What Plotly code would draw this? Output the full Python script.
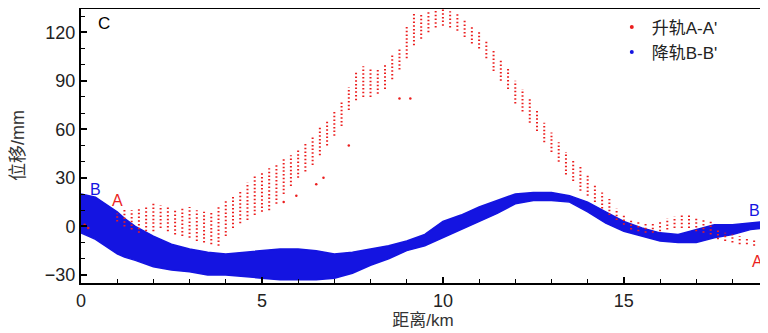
import plotly.graph_objects as go

# ---- Ascending track A-A' (red): dotted point columns, distance (km), lower / upper displacement (mm)
red_x = [1.0, 1.2, 1.4, 1.6, 1.8, 2.0, 2.2, 2.4, 2.6, 2.8, 3.0, 3.2, 3.4, 3.6, 3.8,
         4.0, 4.2, 4.4, 4.6, 4.8, 5.0, 5.2, 5.4, 5.6, 5.8, 6.0, 6.2, 6.4, 6.6, 6.8,
         7.0, 7.2, 7.4, 7.6, 7.8, 8.0, 8.2, 8.4, 8.6, 8.8, 9.0, 9.2, 9.4, 9.6, 9.8,
         10.0, 10.2, 10.4, 10.6, 10.8, 11.0, 11.2, 11.4, 11.6, 11.8, 12.0, 12.2, 12.4, 12.6, 12.8,
         13.0, 13.2, 13.4, 13.6, 13.8, 14.0, 14.2, 14.4, 14.6, 14.8, 15.0, 15.2, 15.4, 15.6, 15.8,
         16.0, 16.2, 16.4, 16.6, 16.8, 17.0, 17.2, 17.4, 17.6, 17.8, 18.0, 18.2, 18.4, 18.6, 18.8]
red_lo = [3, 0, -2, -4, -3, -3, -1, -3, -5, -6, -7, -9, -10, -11, -12,
          -6, -1, 2, 4, 7, 9, 10, 14, 20, 25, 30, 34, 38, 44, 50,
          56, 62, 72, 78, 80, 80, 82, 85, 91, 97, 104, 112, 116, 120, 123,
          124, 123, 121, 117, 113, 110, 104, 96, 90, 85, 76, 71, 64, 59, 52,
          46, 40, 32, 28, 22, 19, 15, 11, 7, 4, 1, -2, -3, -4, -4,
          -3, -2, -1, -1, -1, -3, -4, -5, -8, -9, -10, -11, -11, -12, -12]
red_hi = [8, 11, 10, 11, 12, 14, 13, 12, 11, 11, 12, 10, 9, 9, 12,
          16, 19, 22, 27, 31, 34, 36, 39, 42, 44, 48, 52, 56, 61, 66,
          72, 78, 86, 96, 99, 98, 97, 100, 107, 110, 124, 132, 132, 133, 134,
          134, 133, 132, 128, 124, 120, 115, 109, 103, 98, 90, 85, 79, 72, 64,
          58, 52, 46, 41, 37, 32, 26, 21, 17, 11, 7, 4, 3, 2, 2,
          3, 5, 6, 8, 7, 5, 5, 4, -2, -4, -5, -6, -7, -8, -8]
# isolated red points
red_out_x = [5.6, 5.95, 6.5, 6.7, 7.4, 8.8, 9.1, 0.1, 0.2]
red_out_y = [15, 19, 26, 30, 50, 79, 79, 1, -1]

# ---- Descending track B-B' (blue): band of points, distance (km), lower / upper displacement (mm)
blue_x = [0.0, 0.2, 0.4, 0.6, 0.8, 1.0, 1.2, 1.5, 2.0, 2.5, 3.0, 3.5, 4.0, 4.5, 5.0,
          5.5, 6.0, 6.5, 7.0, 7.5, 8.0, 8.5, 9.0, 9.5, 10.0, 10.5, 11.0, 11.5, 12.0, 12.5,
          13.0, 13.5, 14.0, 14.5, 15.0, 15.5, 16.0, 16.5, 17.0, 17.5, 18.0, 18.5, 18.9]
blue_lo = [-4, -6, -8, -11, -14, -17, -19, -21, -25, -27, -28, -30, -30, -31, -32,
           -33, -33, -33, -32, -29, -24, -20, -15, -12, -7, -2, 3, 8, 14, 16,
           16, 15, 9, 2, -3, -6, -9, -10, -10, -7, -5, -2, -1]
blue_hi = [20, 19, 18, 15, 12, 9, 5, 0, -6, -11, -14, -16, -17, -16, -15,
           -14, -14, -15, -17, -16, -14, -12, -9, -5, 3, 7, 12, 16, 20, 21,
           21, 19, 15, 9, 3, -1, -4, -5, -2, 1, 1, 2, 3]

# ---- text
label_panel = "C"
name_red = "升轨A-A'"
name_blue = "降轨B-B'"
x_title = "距离/km"
y_title = "位移/mm"
# (text, x, y, colour, anchor, x-shift px)
point_labels = [("B", 0.4, 23, "blue", "center", 0), ("A", 1.02, 16, "red", "center", 0),
                ("B'", 18.9, 10, "blue", "right", 0), ("A'", 18.9, -22, "red", "right", 3)]

RED = "rgb(235,30,30)"
BLUE = "rgb(20,20,225)"
FONT = "Liberation Sans, Arial, Noto Sans CJK SC, sans-serif"

fig = go.Figure()

# blue band
poly_x = blue_x + blue_x[::-1]
poly_y = blue_hi + blue_lo[::-1]
fig.add_trace(go.Scatter(x=poly_x, y=poly_y, mode="lines", fill="toself",
                         fillcolor=BLUE, line=dict(color=BLUE, width=1.5),
                         showlegend=False, hoverinfo="skip"))

# red dotted columns
cx, cy = [], []
for x, lo, hi in zip(red_x, red_lo, red_hi):
    cx += [x, x, None]
    cy += [lo, hi, None]
fig.add_trace(go.Scatter(x=cx, y=cy, mode="lines",
                         line=dict(color=RED, width=2, dash="1.5px,2.2px"),
                         showlegend=False, hoverinfo="skip"))
fig.add_trace(go.Scatter(x=red_out_x, y=red_out_y, mode="markers",
                         marker=dict(color=RED, size=2.5), showlegend=False, hoverinfo="skip"))

# legend entries
fig.add_trace(go.Scatter(x=[None], y=[None], mode="markers", name=name_red,
                         marker=dict(color=RED, size=4)))
fig.add_trace(go.Scatter(x=[None], y=[None], mode="markers", name=name_blue,
                         marker=dict(color=BLUE, size=4)))

annotations = [dict(x=0.022, y=0.985, xref="paper", yref="paper", text=label_panel,
                    showarrow=False, xanchor="left", yanchor="top",
                    font=dict(family=FONT, size=17, color="black"))]
for t, x, y, c, anc, xs in point_labels:
    annotations.append(dict(x=x, y=y, text=t, showarrow=False, xanchor=anc, xshift=xs,
                            font=dict(family=FONT, size=16, color=BLUE if c == "blue" else RED)))

# the page body adds an 8px offset, so the figure is sized/margined to compensate
fig.update_layout(
    width=760, height=325,
    margin=dict(l=73, r=3, t=0, b=50),
    paper_bgcolor="white", plot_bgcolor="white",
    font=dict(family=FONT, size=16, color="#222"),
    showlegend=True,
    legend=dict(x=0.776, y=0.995, xanchor="left", yanchor="top",
                bgcolor="rgba(0,0,0,0)", font=dict(size=17, color="#222"),
                itemwidth=30, tracegroupgap=0),
    annotations=annotations,
    shapes=[
        dict(type="line", xref="paper", yref="paper", x0=0, x1=1, y0=1, y1=1,
             line=dict(color="black", width=2)),
        dict(type="line", xref="paper", yref="paper", x0=1, x1=1, y0=0, y1=1,
             line=dict(color="#999", width=1)),
    ],
)
fig.update_xaxes(range=[0, 18.9], dtick=5, tick0=0, ticks="inside", ticklen=6,
                 tickwidth=1.5, tickcolor="black", automargin=False,
                 minor=dict(dtick=1, ticks="inside", ticklen=4, tickcolor="black", tickwidth=1),
                 showline=True, linecolor="black", linewidth=2, showgrid=False, zeroline=False,
                 tickfont=dict(size=18, color="#222"),
                 title=dict(text=x_title, font=dict(size=17, color="#333"), standoff=4))
fig.update_yaxes(range=[-35, 135], dtick=30, tick0=0, ticks="inside", ticklen=6,
                 tickwidth=1.5, tickcolor="black", automargin=False,
                 minor=dict(dtick=10, ticks="inside", ticklen=4, tickcolor="black", tickwidth=1),
                 showline=True, linecolor="black", linewidth=2, showgrid=False, zeroline=False,
                 tickfont=dict(size=18, color="#222"),
                 title=dict(text=y_title, font=dict(size=18, color="#333"), standoff=16))

fig.write_html("out.html")
